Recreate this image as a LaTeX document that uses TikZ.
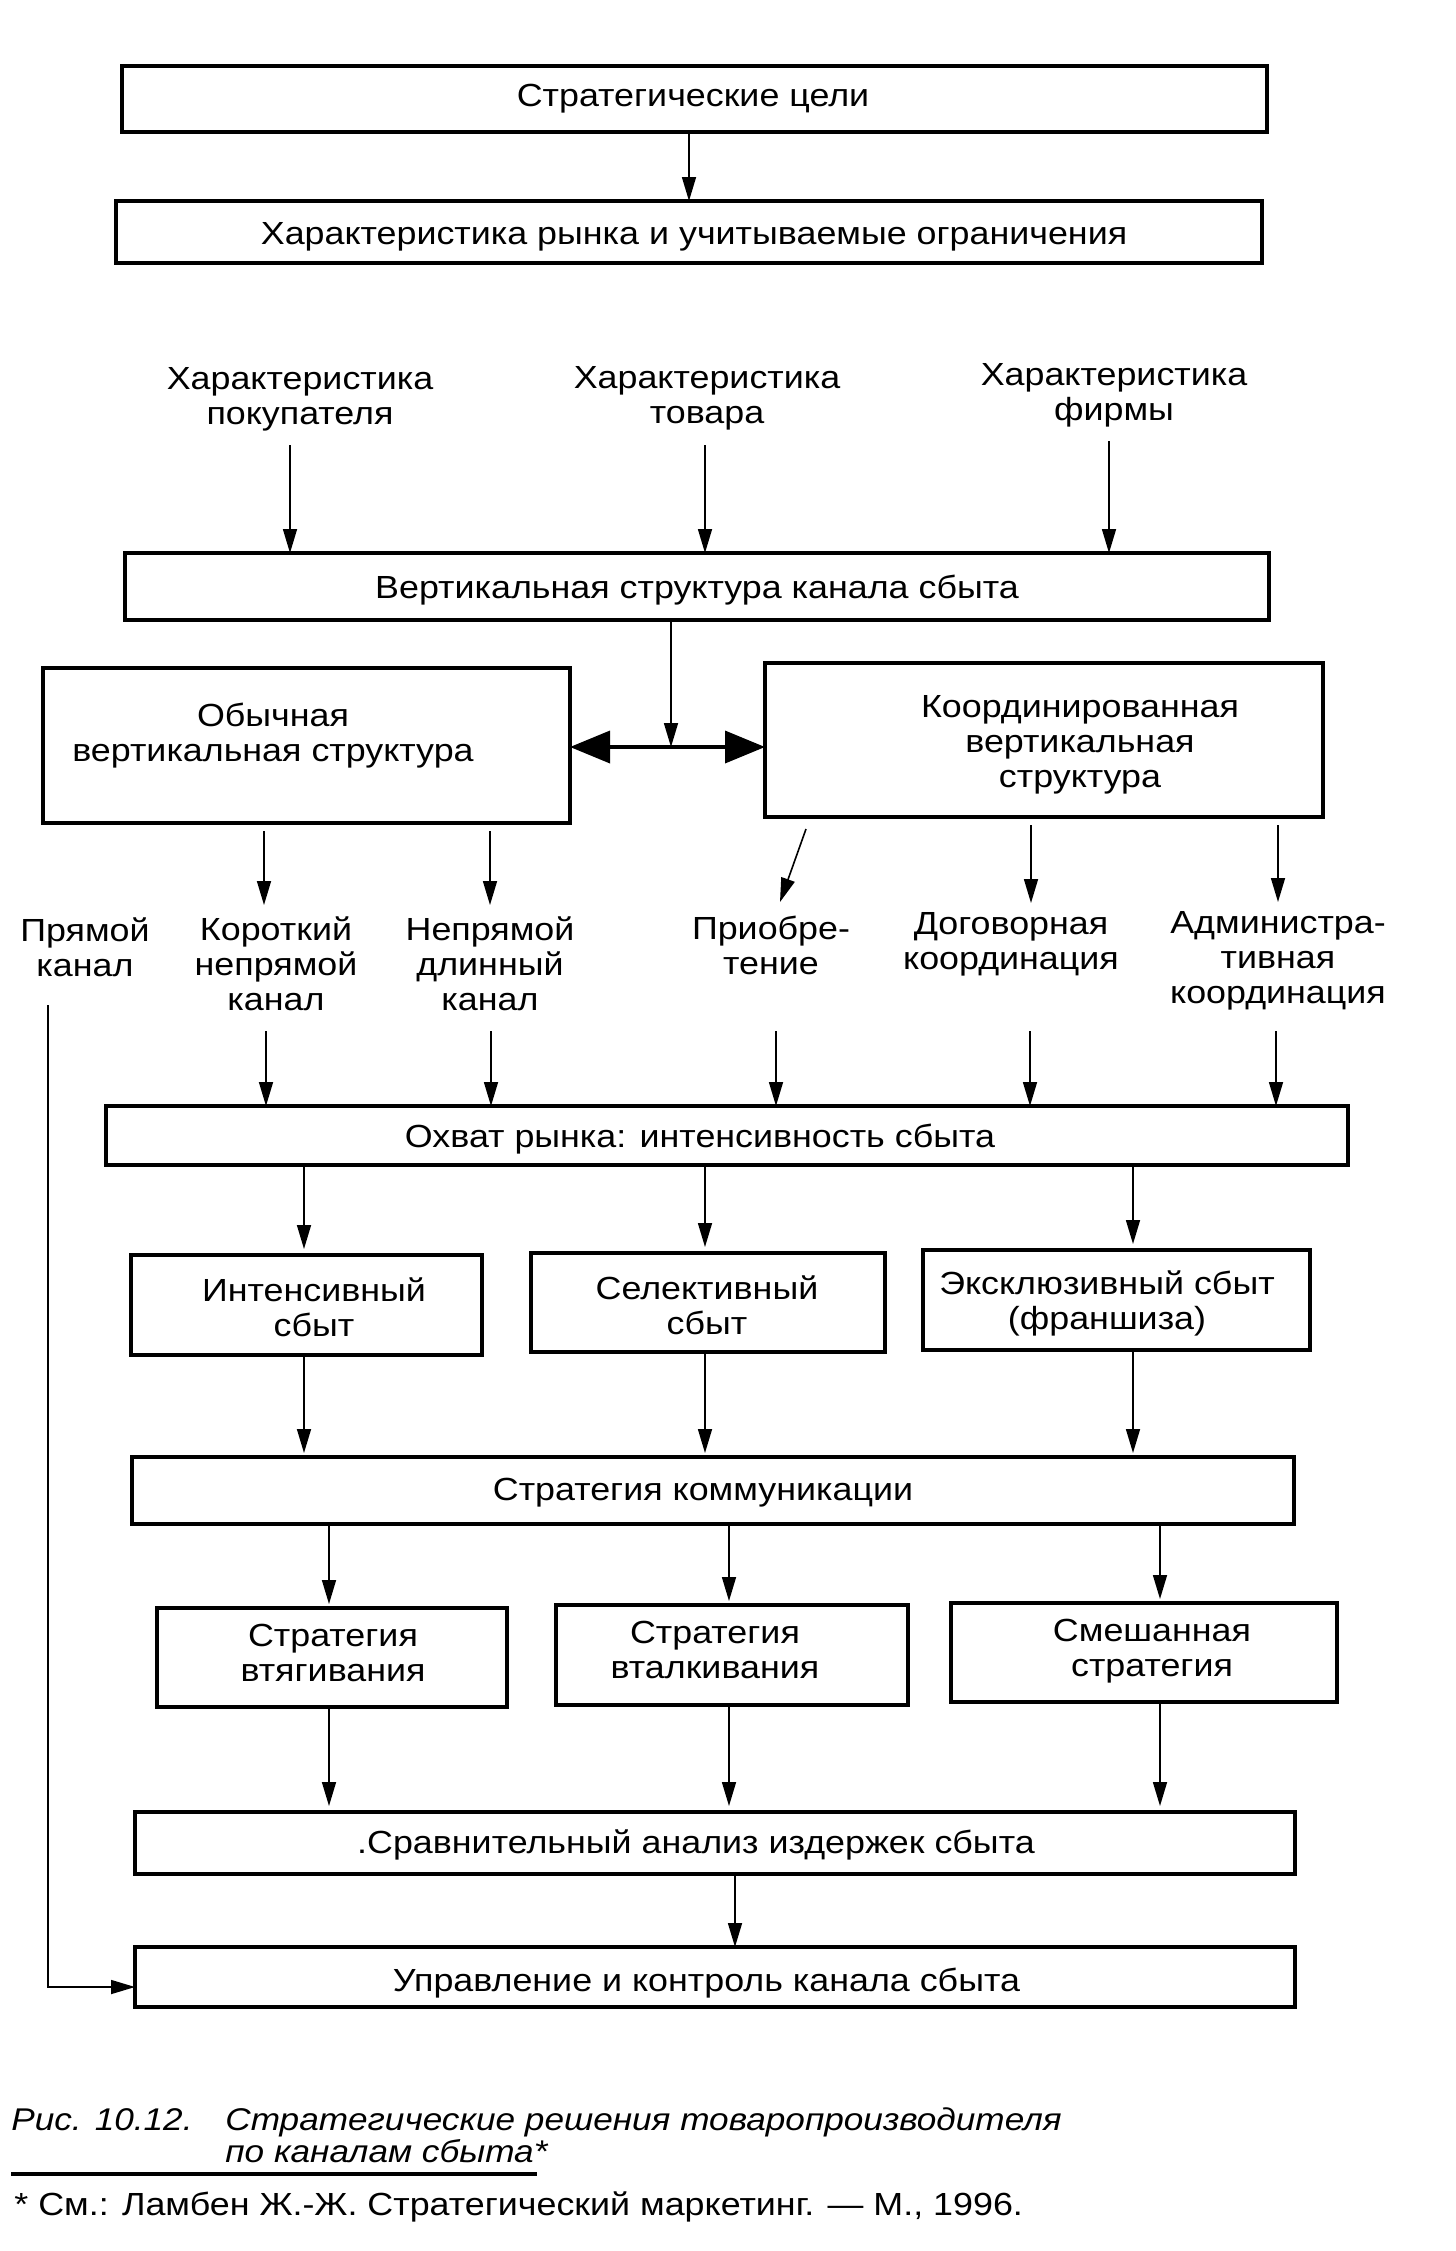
\documentclass[tikz,border=0pt]{standalone}
\usepackage{fontspec}
\setmainfont{Liberation Sans}[FakeStretch=1.12]
\usetikzlibrary{arrows.meta}
\begin{document}
\begin{tikzpicture}[x=0.5pt,y=-0.5pt,
  box/.style={draw, line width=1.8pt, inner sep=0pt, outer sep=0pt},
  txt/.style={font=\fontsize{16}{17.5}\selectfont, align=center, inner sep=0pt},
  capt/.style={font=\fontsize{15.7}{17.5}\selectfont\itshape, inner sep=0pt},
  arr/.style={line width=0.8pt, -{Triangle[width=7pt,length=12pt]}},
  dbl/.style={line width=1.8pt, {Triangle[width=16pt,length=20pt]}-{Triangle[width=16pt,length=20pt]}},
]
\useasboundingbox (0,0) rectangle (1456,2251);
% boxes
\node[box, minimum width=572.5pt, minimum height=33pt] (b1) at (694.5,99) {};
\node[box, minimum width=573pt, minimum height=31pt] (b2) at (689,232) {};
\node[box, minimum width=572pt, minimum height=33.5pt] (b3) at (697,586.5) {};
\node[box, minimum width=263.5pt, minimum height=77.5pt] (b4) at (306.5,745.5) {};
\node[box, minimum width=279pt, minimum height=77pt] (b5) at (1044,740) {};
\node[box, minimum width=621pt, minimum height=29.5pt] (b6) at (727,1135.5) {};
\node[box, minimum width=175.5pt, minimum height=50pt] (b7) at (306.5,1305) {};
\node[box, minimum width=177pt, minimum height=49.5pt] (b8) at (708,1302.5) {};
\node[box, minimum width=193.5pt, minimum height=50pt] (b9) at (1116.5,1300) {};
\node[box, minimum width=581pt, minimum height=33.5pt] (b10) at (713,1490.5) {};
\node[box, minimum width=175pt, minimum height=49.5pt] (b11) at (332,1657.5) {};
\node[box, minimum width=176pt, minimum height=50pt] (b12) at (732,1655) {};
\node[box, minimum width=193pt, minimum height=49.5pt] (b13) at (1144,1652.5) {};
\node[box, minimum width=580pt, minimum height=31pt] (b14) at (715,1843) {};
\node[box, minimum width=580pt, minimum height=30pt] (b15) at (715,1977) {};
% box texts
\node[txt] (t1) at (693,99) {Стратегические цели};
\node[txt] (t2) at (694,237) {Характеристика рынка и учитываемые ограничения};
\node[txt] (t3) at (697,590) {Вертикальная структура канала сбыта};
\node[txt] (t4) at (273,736) {Обычная\\вертикальная структура};
\node[txt] (t5) at (1080,745) {Координированная\\вертикальная\\структура};
\node[txt] (t6) at (700,1139) {Охват рынка: интенсивность сбыта};
\node[txt] (t7) at (314,1307) {Интенсивный\\сбыт};
\node[txt] (t8) at (707,1305) {Селективный\\сбыт};
\node[txt] (t9) at (1107,1303) {Эксклюзивный сбыт\\(франшиза)};
\node[txt] (t10) at (703,1493) {Стратегия коммуникации};
\node[txt] (t11) at (333,1653) {Стратегия\\втягивания};
\node[txt] (t12) at (715,1650) {Стратегия\\вталкивания};
\node[txt] (t13) at (1152,1651) {Смешанная\\стратегия};
\node[txt] (t14) at (696,1845) {.Сравнительный анализ издержек сбыта};
\node[txt] (t15) at (706.5,1983) {Управление и контроль канала сбыта};
% free labels
\node[txt] (l1) at (300,399) {Характеристика\\покупателя};
\node[txt] (l2) at (707,398) {Характеристика\\товара};
\node[txt] (l3) at (1114,395) {Характеристика\\фирмы};
\node[txt] (r1) at (85,947) {Прямой\\канал};
\node[txt] (r2) at (276,964) {Короткий\\непрямой\\канал};
\node[txt] (r3) at (490,964) {Непрямой\\длинный\\канал};
\node[txt] (r4) at (771,945) {Приобре-\\тение};
\node[txt] (r5) at (1011,944) {Договорная\\координация};
\node[txt] (r6) at (1278,961) {Администра-\\тивная\\координация};
% coordinates
\coordinate (cA) at (689,0);
\coordinate (s1) at (290,445);
\coordinate (s2) at (705,445);
\coordinate (s3) at (1109,441);
\coordinate (m) at (671,747);
\coordinate (e1) at (264,905);
\coordinate (e2) at (490,905);
\coordinate (g3) at (806,829);
\coordinate (e3) at (780,902);
\coordinate (e4) at (1031,903);
\coordinate (e5) at (1278,902);
\coordinate (f1) at (266,1031);
\coordinate (f2) at (491,1031);
\coordinate (f3) at (776,1031);
\coordinate (f4) at (1030,1031);
\coordinate (f5) at (1276,1031);
\coordinate (h1) at (304,0);
\coordinate (h2) at (705,0);
\coordinate (h3) at (1133,0);
\coordinate (k1) at (329,0);
\coordinate (k2) at (729,0);
\coordinate (k3) at (1160,0);
\coordinate (k4) at (735,0);
\coordinate (p0) at (48,1005);
% connectors
\draw[arr] (cA |- b1.south) -- (cA |- b2.north);
\draw[arr] (s1) -- (s1 |- b3.north);
\draw[arr] (s2) -- (s2 |- b3.north);
\draw[arr] (s3) -- (s3 |- b3.north);
\draw[dbl] (m -| b4.east) -- (m -| b5.west);
\draw[arr] (m |- b3.south) -- (m);
\draw[arr, shorten <=4pt] (e1 |- b4.south) -- (e1);
\draw[arr, shorten <=4pt] (e2 |- b4.south) -- (e2);
\draw[arr] (g3) -- (e3);
\draw[arr, shorten <=4pt] (e4 |- b5.south) -- (e4);
\draw[arr, shorten <=4pt] (e5 |- b5.south) -- (e5);
\foreach \f in {f1,f2,f3,f4,f5}{\draw[arr] (\f) -- (\f |- b6.north);}
\draw[arr, shorten >=3pt] (h1 |- b6.south) -- (h1 |- b7.north);
\draw[arr, shorten >=3pt] (h2 |- b6.south) -- (h2 |- b8.north);
\draw[arr, shorten >=3pt] (h3 |- b6.south) -- (h3 |- b9.north);
\draw[arr, shorten >=2pt] (h1 |- b7.south) -- (h1 |- b10.north);
\draw[arr, shorten >=2pt] (h2 |- b8.south) -- (h2 |- b10.north);
\draw[arr, shorten >=2pt] (h3 |- b9.south) -- (h3 |- b10.north);
\draw[arr, shorten >=2pt] (k1 |- b10.south) -- (k1 |- b11.north);
\draw[arr, shorten >=2pt] (k2 |- b10.south) -- (k2 |- b12.north);
\draw[arr, shorten >=2pt] (k3 |- b10.south) -- (k3 |- b13.north);
\draw[arr, shorten >=3pt] (k1 |- b11.south) -- (k1 |- b14.north);
\draw[arr, shorten >=3pt] (k2 |- b12.south) -- (k2 |- b14.north);
\draw[arr, shorten >=3pt] (k3 |- b13.south) -- (k3 |- b14.north);
\draw[arr] (k4 |- b14.south) -- (k4 |- b15.north);
\draw[arr] (p0) |- ([yshift=-5pt]b15.west);
% caption
\node[capt, anchor=base west] (c1) at (11,2130) {Рис. 10.12.};
\node[capt, anchor=base west] (c2) at (225,2130) {Стратегические решения товаропроизводителя};
\node[capt, anchor=base west] (c3) at (225,2162) {по каналам сбыта*};
\coordinate (u0) at (11,2174);
\coordinate (u1) at (537,2174);
\draw[line width=1.8pt] (u0) -- (u1);
\node[txt, anchor=base west] (fn) at (14,2215) {* См.: Ламбен Ж.-Ж. Стратегический маркетинг. — М., 1996.};
\end{tikzpicture}
\end{document}
